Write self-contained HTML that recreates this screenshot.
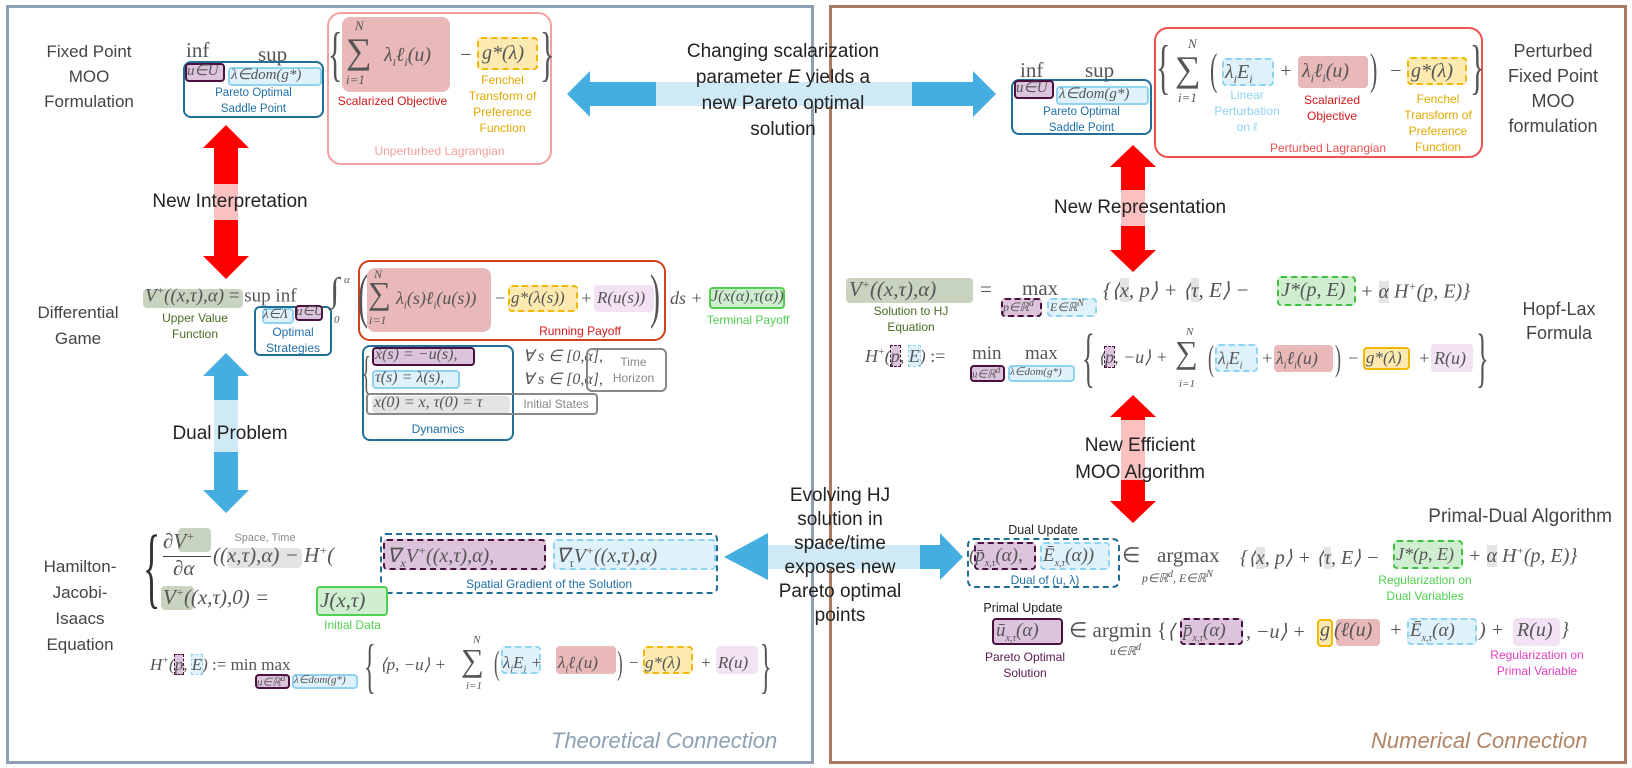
<!DOCTYPE html>
<html><head><meta charset="utf-8">
<style>
*{margin:0;padding:0;box-sizing:border-box}
body{width:1632px;height:768px;background:#fff;position:relative;overflow:hidden;font-family:"Liberation Sans",sans-serif}
.a{position:absolute;white-space:nowrap}
.t{font-family:"Liberation Sans",sans-serif;color:#222;text-align:center;line-height:26px;font-size:19px}
.m{font-family:"Liberation Serif",serif;font-style:italic;color:#555;font-size:19px}
.b{position:absolute;border-radius:4px}
.s{font-family:"Liberation Sans",sans-serif;font-size:11.5px;text-align:center;line-height:16px}
.pur{background:#dcc4dc;border:2px solid #4a1040}
.purd{background:#dcc4dc;border:2px dashed #4a1040}
.lb{background:#dff2fb;border:2px solid #8fd3f2}
.lbd{background:#dff2fb;border:2px dashed #8fd3f2}
.red{background:#e9b8b8;border-radius:8px}
.yel{background:#fdeab0;border:2px dashed #f2b800}
.grn{background:#cfeecf;border:2px solid #50d050}
.grnd{background:#cfeecf;border:2px dashed #40c040}
.pk{background:#f3e2f3;border-radius:4px}
.gr{background:#e4e4e4}
.vg{background:#c8d4c0}
</style></head><body>

<!-- panels -->
<div class="a" style="left:6px;top:5px;width:808px;height:759px;border:3px solid #8ea0b3"></div>
<div class="a" style="left:829px;top:5px;width:798px;height:759px;border:3px solid #a97c62"></div>

<!-- arrows -->
<svg class="a" style="left:0;top:0" width="1632" height="768">
 <polygon points="567,94 590,71 590,82 973,82 973,71 996,94 973,117 973,106 590,106 590,117" fill="#45aee0"/>
 <rect x="656" y="82" width="256" height="24" fill="#cfe9f6"/>
 <polygon points="724,557 768,533 768,545 940,545 940,533 963,557 940,580 940,569 768,569 768,580" fill="#45aee0"/>
 <rect x="768" y="545" width="152" height="24" fill="#cfe9f6"/>
 <polygon points="226,125 249,148 238,148 238,256 249,256 226,279 203,256 214,256 214,148 203,148" fill="#ff0000"/>
 <rect x="214" y="184" width="24" height="36" fill="#fbc0c0"/>
 <polygon points="226,353 249,376 238,376 238,490 249,490 226,513 203,490 214,490 214,376 203,376" fill="#45aee0"/>
 <rect x="214" y="400" width="24" height="52" fill="#cfe9f6"/>
 <polygon points="1133,145 1156,167 1145,167 1145,250 1156,250 1133,272 1110,250 1121,250 1121,167 1110,167" fill="#ff0000"/>
 <rect x="1121" y="190" width="24" height="36" fill="#fbc0c0"/>
 <polygon points="1133,395 1156,417 1145,417 1145,501 1156,501 1133,523 1110,501 1121,501 1121,417 1110,417" fill="#ff0000"/>
 <rect x="1121" y="420" width="24" height="60" fill="#fbc0c0"/>
</svg>

<!-- arrow labels -->
<div class="a t" style="left:663px;top:39px;width:240px">Changing scalarization<br>parameter <i>E</i> yields a<br>new Pareto optimal<br>solution</div>
<div class="a t" style="left:125px;top:189px;width:210px">New Interpretation</div>
<div class="a t" style="left:125px;top:421px;width:210px">Dual Problem</div>
<div class="a t" style="left:1030px;top:195px;width:220px">New Representation</div>
<div class="a t" style="left:1040px;top:432px;width:200px;line-height:27px">New Efficient<br>MOO Algorithm</div>
<div class="a t" style="left:750px;top:484px;width:180px;line-height:24px">Evolving HJ<br>solution in<br>space/time<br>exposes new<br>Pareto optimal<br>points</div>

<!-- LEFT: Fixed point -->
<div class="a t" style="left:19px;top:39px;width:140px;color:#444;font-size:17px;line-height:25px">Fixed Point<br>MOO<br>Formulation</div>
<div class="a m" style="left:186px;top:38px;font-style:normal;font-size:21px">inf</div>
<div class="a m" style="left:258px;top:42px;font-style:normal;font-size:21px">sup</div>
<div class="b" style="left:183px;top:61px;width:141px;height:57px;border:2px solid #1f6f98;border-radius:8px"></div>
<div class="b pur" style="left:185px;top:63px;width:40px;height:19px"></div>
<div class="a m" style="left:187px;top:61px;font-size:15px">u∈U</div>
<div class="b lb" style="left:228px;top:67px;width:94px;height:19px"></div>
<div class="a m" style="left:231px;top:65px;font-size:15px">λ∈dom(g*)</div>
<div class="a s" style="left:183px;top:85px;width:141px;color:#1f6fa8">Pareto Optimal<br>Saddle Point</div>

<div class="b" style="left:327px;top:12px;width:225px;height:153px;border:2px solid #f5a0a0;border-radius:14px"></div>
<div class="a m" style="left:328px;top:20px;font-size:60px;font-style:normal;font-weight:100;transform:scaleX(.5);transform-origin:left">{</div>
<div class="b red" style="left:342px;top:17px;width:108px;height:75px"></div>
<div class="a m" style="left:355px;top:18px;font-size:13px">N</div>
<div class="a m" style="left:346px;top:30px;font-size:36px;font-style:normal">∑</div>
<div class="a m" style="left:384px;top:44px;font-size:20px">λ<sub style="font-size:12px">i</sub>ℓ<sub style="font-size:12px">i</sub>(u)</div>
<div class="a m" style="left:346px;top:72px;font-size:13px">i=1</div>
<div class="a m" style="left:459px;top:44px;font-size:20px">−</div>
<div class="b yel" style="left:477px;top:37px;width:61px;height:33px"></div>
<div class="a m" style="left:482px;top:42px;font-size:20px">g*(λ)</div>
<div class="a m" style="left:540px;top:20px;font-size:60px;font-style:normal;transform:scaleX(.5);transform-origin:left">}</div>
<div class="a s" style="left:330px;top:93px;width:125px;color:#d01818;font-size:12px">Scalarized Objective</div>
<div class="a s" style="left:460px;top:72px;width:85px;color:#e2a800;font-size:12px">Fenchel<br>Transform of<br>Preference<br>Function</div>
<div class="a s" style="left:327px;top:143px;width:225px;color:#f5a0a0;font-size:12px">Unperturbed Lagrangian</div>

<!-- LEFT: Differential game -->
<div class="a t" style="left:8px;top:300px;width:140px;color:#444;font-size:17px">Differential<br>Game</div>
<div class="b vg" style="left:143px;top:289px;width:100px;height:19px"></div>
<div class="a m" style="left:145px;top:285px;font-size:19px">V<sup style="font-size:11px">+</sup>((x,τ),α) <span style="font-style:normal">= sup inf</span></div>
<div class="a s" style="left:145px;top:310px;width:100px;color:#4a6a20;font-size:12px">Upper Value<br>Function</div>
<div class="b" style="left:254px;top:306px;width:78px;height:50px;border:2px solid #1f6f98;border-radius:6px"></div>
<div class="b lb" style="left:262px;top:308px;width:32px;height:16px"></div>
<div class="a m" style="left:263px;top:306px;font-size:13px">λ∈Λ</div>
<div class="b pur" style="left:295px;top:305px;width:28px;height:16px"></div>
<div class="a m" style="left:296px;top:303px;font-size:13px">u∈U</div>
<div class="a s" style="left:254px;top:324px;width:78px;color:#1f6fa8;font-size:12px">Optimal<br>Strategies</div>
<div class="a m" style="left:330px;top:272px;font-size:34px;font-style:normal">∫</div>
<div class="a m" style="left:344px;top:274px;font-size:11px">α</div>
<div class="a m" style="left:334px;top:314px;font-size:11px">0</div>
<div class="b" style="left:358px;top:260px;width:308px;height:81px;border:2px solid #d0401a;border-radius:12px"></div>
<div class="a m" style="left:358px;top:262px;font-size:60px;font-style:normal;transform:scaleX(.5);transform-origin:left">(</div>
<div class="b red" style="left:367px;top:268px;width:124px;height:64px"></div>
<div class="a m" style="left:374px;top:267px;font-size:12px">N</div>
<div class="a m" style="left:368px;top:275px;font-size:32px;font-style:normal">∑</div>
<div class="a m" style="left:396px;top:288px;font-size:18px">λ<sub style="font-size:11px">i</sub>(s)ℓ<sub style="font-size:11px">i</sub>(u(s))</div>
<div class="a m" style="left:369px;top:313px;font-size:12px">i=1</div>
<div class="a m" style="left:494px;top:288px;font-size:18px">−</div>
<div class="b yel" style="left:508px;top:285px;width:70px;height:27px"></div>
<div class="a m" style="left:511px;top:288px;font-size:17px">g*(λ(s))</div>
<div class="a m" style="left:580px;top:288px;font-size:18px">+</div>
<div class="b pk" style="left:594px;top:285px;width:60px;height:27px"></div>
<div class="a m" style="left:597px;top:288px;font-size:17px">R(u(s))</div>
<div class="a m" style="left:650px;top:262px;font-size:60px;font-style:normal;transform:scaleX(.5);transform-origin:left">)</div>
<div class="a s" style="left:520px;top:323px;width:120px;color:#d01818;font-size:12px">Running Payoff</div>
<div class="a m" style="left:670px;top:288px;font-size:18px">ds +</div>
<div class="b grn" style="left:709px;top:287px;width:76px;height:22px"></div>
<div class="a m" style="left:711px;top:288px;font-size:16px">J(x(α),τ(α))</div>
<div class="a s" style="left:706px;top:312px;width:84px;color:#50d050;font-size:12px">Terminal Payoff</div>

<div class="b" style="left:362px;top:345px;width:152px;height:96px;border:2px solid #1f6f98;border-radius:8px"></div>
<div class="a m" style="left:362px;top:346px;font-size:46px;font-style:normal;transform:scaleX(.4);transform-origin:left">{</div>
<div class="b pur" style="left:372px;top:347px;width:103px;height:19px"></div>
<div class="a m" style="left:375px;top:346px;font-size:16px">ẋ(s) = −u(s),</div>
<div class="b lb" style="left:372px;top:370px;width:88px;height:19px"></div>
<div class="a m" style="left:375px;top:369px;font-size:16px">τ̇(s) = λ(s),</div>
<div class="b" style="left:366px;top:393px;width:232px;height:22px;border:2px solid #888"></div>
<div class="b gr" style="left:372px;top:396px;width:138px;height:17px"></div>
<div class="a m" style="left:374px;top:394px;font-size:16px">x(0) = x,  τ(0) = τ</div>
<div class="a s" style="left:514px;top:396px;width:84px;color:#888;font-size:12px">Initial States</div>
<div class="a m" style="left:523px;top:346px;font-size:16px">∀ s ∈ [0,α],</div>
<div class="a m" style="left:523px;top:369px;font-size:16px">∀ s ∈ [0,α],</div>
<div class="b" style="left:586px;top:348px;width:81px;height:44px;border:2px solid #888;border-radius:6px"></div>
<div class="a s" style="left:600px;top:354px;width:67px;color:#888;font-size:12px">Time<br>Horizon</div>
<div class="a s" style="left:362px;top:421px;width:152px;color:#1f6fa8;font-size:12px">Dynamics</div>

<!-- LEFT: HJI -->
<div class="a t" style="left:10px;top:554px;width:140px;color:#444;font-size:17px">Hamilton-<br>Jacobi-<br>Isaacs<br>Equation</div>
<div class="a m" style="left:143px;top:516px;font-size:90px;font-style:normal;transform:scaleX(.4);transform-origin:left;color:#333">{</div>
<div class="b vg" style="left:178px;top:528px;width:33px;height:24px"></div>
<div class="a m" style="left:163px;top:529px;font-size:21px">∂V<sup style="font-size:12px">+</sup></div>
<div class="a" style="left:163px;top:556px;width:48px;border-top:1px solid #444"></div>
<div class="a m" style="left:173px;top:556px;font-size:21px">∂α</div>
<div class="a s" style="left:225px;top:530px;width:80px;color:#888;font-size:11px">Space, Time</div>
<div class="b gr" style="left:227px;top:548px;width:75px;height:20px"></div>
<div class="a m" style="left:213px;top:543px;font-size:21px">((x,τ),α) − H<sup style="font-size:12px">+</sup>(</div>
<div class="b" style="left:380px;top:533px;width:338px;height:61px;border:2px dashed #1f6f98;border-radius:6px"></div>
<div class="b purd" style="left:383px;top:539px;width:163px;height:31px"></div>
<div class="a m" style="left:387px;top:543px;font-size:20px">∇<sub style="font-size:12px">x</sub>V<sup style="font-size:12px">+</sup>((x,τ),α),</div>
<div class="b lbd" style="left:553px;top:539px;width:163px;height:31px"></div>
<div class="a m" style="left:556px;top:543px;font-size:20px">∇<sub style="font-size:12px">τ</sub>V<sup style="font-size:12px">+</sup>((x,τ),α)</div>
<div class="a s" style="left:380px;top:576px;width:338px;color:#1f6fa8;font-size:12px">Spatial Gradient of the Solution</div>
<div class="b vg" style="left:161px;top:586px;width:33px;height:24px"></div>
<div class="a m" style="left:163px;top:585px;font-size:21px">V<sup style="font-size:12px">+</sup>((x,τ),0) =</div>
<div class="b grn" style="left:316px;top:586px;width:72px;height:30px"></div>
<div class="a m" style="left:320px;top:588px;font-size:21px">J(x,τ)</div>
<div class="a s" style="left:310px;top:617px;width:85px;color:#50d050;font-size:12px">Initial Data</div>

<div class="a m" style="left:150px;top:655px;font-size:17px">H<sup style="font-size:10px">+</sup>(<span style="background:#dcc4dc;outline:1px dashed #4a1040">p</span>, <span style="background:#dff2fb;outline:1px dashed #8fd3f2">E</span>) <span style="font-style:normal">:=  min    max</span></div>
<div class="b pur" style="left:255px;top:674px;width:35px;height:15px"></div>
<div class="a m" style="left:257px;top:673px;font-size:11px">u∈ℝ<sup>d</sup></div>
<div class="b lb" style="left:292px;top:674px;width:66px;height:15px"></div>
<div class="a m" style="left:294px;top:673px;font-size:11px">λ∈dom(g*)</div>
<div class="a m" style="left:364px;top:632px;font-size:60px;font-style:normal;transform:scaleX(.4);transform-origin:left">{</div>
<div class="a m" style="left:380px;top:655px;font-size:17px">⟨p, −u⟩ +</div>
<div class="a m" style="left:473px;top:634px;font-size:11px">N</div>
<div class="a m" style="left:461px;top:642px;font-size:32px;font-style:normal">∑</div>
<div class="a m" style="left:466px;top:680px;font-size:11px">i=1</div>
<div class="a m" style="left:494px;top:645px;font-size:34px;font-style:normal;transform:scaleX(.5);transform-origin:left">(</div>
<div class="b lbd" style="left:501px;top:646px;width:40px;height:28px"></div>
<div class="a m" style="left:503px;top:653px;font-size:17px">λ<sub style="font-size:10px">i</sub>E<sub style="font-size:10px">i</sub> +</div>
<div class="b red" style="left:556px;top:646px;width:60px;height:28px;border-radius:4px"></div>
<div class="a m" style="left:558px;top:653px;font-size:17px">λ<sub style="font-size:10px">i</sub>ℓ<sub style="font-size:10px">i</sub>(u)</div>
<div class="a m" style="left:617px;top:645px;font-size:34px;font-style:normal;transform:scaleX(.5);transform-origin:left">)</div>
<div class="a m" style="left:628px;top:653px;font-size:17px">−</div>
<div class="b yel" style="left:643px;top:646px;width:50px;height:28px"></div>
<div class="a m" style="left:645px;top:653px;font-size:17px">g*(λ)</div>
<div class="a m" style="left:700px;top:653px;font-size:17px">+</div>
<div class="b pk" style="left:716px;top:646px;width:42px;height:28px"></div>
<div class="a m" style="left:718px;top:653px;font-size:17px">R(u)</div>
<div class="a m" style="left:760px;top:632px;font-size:60px;font-style:normal;transform:scaleX(.4);transform-origin:left">}</div>
<div class="a" style="left:551px;top:728px;font-style:italic;font-size:22px;color:#8ea0b3;font-family:'Liberation Sans',sans-serif">Theoretical Connection</div>

<!-- RIGHT: perturbed -->
<div class="a m" style="left:1020px;top:58px;font-style:normal;font-size:21px">inf</div>
<div class="a m" style="left:1085px;top:58px;font-style:normal;font-size:21px">sup</div>
<div class="b" style="left:1011px;top:79px;width:141px;height:56px;border:2px solid #1f6f98;border-radius:8px"></div>
<div class="b pur" style="left:1014px;top:80px;width:40px;height:19px"></div>
<div class="a m" style="left:1016px;top:78px;font-size:15px">u∈U</div>
<div class="b lb" style="left:1056px;top:86px;width:93px;height:19px"></div>
<div class="a m" style="left:1059px;top:84px;font-size:15px">λ∈dom(g*)</div>
<div class="a s" style="left:1011px;top:104px;width:141px;color:#1f6fa8">Pareto Optimal<br>Saddle Point</div>

<div class="b" style="left:1154px;top:27px;width:329px;height:131px;border:2px solid #f05050;border-radius:14px"></div>
<div class="a m" style="left:1156px;top:33px;font-size:60px;font-style:normal;transform:scaleX(.5);transform-origin:left">{</div>
<div class="a m" style="left:1188px;top:36px;font-size:13px">N</div>
<div class="a m" style="left:1175px;top:48px;font-size:36px;font-style:normal">∑</div>
<div class="a m" style="left:1178px;top:90px;font-size:13px">i=1</div>
<div class="a m" style="left:1210px;top:44px;font-size:44px;font-style:normal;transform:scaleX(.5);transform-origin:left">(</div>
<div class="b lbd" style="left:1222px;top:58px;width:52px;height:28px"></div>
<div class="a m" style="left:1225px;top:61px;font-size:20px">λ<sub style="font-size:12px">i</sub>E<sub style="font-size:12px">i</sub></div>
<div class="a m" style="left:1279px;top:60px;font-size:20px">+</div>
<div class="b red" style="left:1298px;top:56px;width:70px;height:32px;border-radius:4px"></div>
<div class="a m" style="left:1302px;top:60px;font-size:20px">λ<sub style="font-size:12px">i</sub>ℓ<sub style="font-size:12px">i</sub>(u)</div>
<div class="a m" style="left:1370px;top:44px;font-size:44px;font-style:normal;transform:scaleX(.5);transform-origin:left">)</div>
<div class="a m" style="left:1389px;top:60px;font-size:20px">−</div>
<div class="b yel" style="left:1407px;top:57px;width:60px;height:28px"></div>
<div class="a m" style="left:1411px;top:60px;font-size:20px">g*(λ)</div>
<div class="a m" style="left:1470px;top:33px;font-size:60px;font-style:normal;transform:scaleX(.5);transform-origin:left">}</div>
<div class="a s" style="left:1207px;top:87px;width:80px;color:#8fd3f2;font-size:12px">Linear<br>Perturbation<br>on ℓ</div>
<div class="a s" style="left:1292px;top:92px;width:80px;color:#d01818;font-size:12px">Scalarized<br>Objective</div>
<div class="a s" style="left:1396px;top:91px;width:84px;color:#e2a800;font-size:12px">Fenchel<br>Transform of<br>Preference<br>Function</div>
<div class="a s" style="left:1266px;top:140px;width:124px;color:#f05050;font-size:12px">Perturbed Lagrangian</div>
<div class="a t" style="left:1488px;top:39px;width:130px;color:#444;font-size:18px;line-height:25px">Perturbed<br>Fixed Point<br>MOO<br>formulation</div>

<!-- RIGHT: Hopf-Lax -->
<div class="b vg" style="left:846px;top:278px;width:127px;height:25px"></div>
<div class="a m" style="left:849px;top:277px;font-size:21px">V<sup style="font-size:12px">+</sup>((x,τ),α)</div>
<div class="a m" style="left:980px;top:277px;font-size:21px;font-style:normal">=</div>
<div class="a m" style="left:1022px;top:276px;font-size:21px;font-style:normal">max</div>
<div class="b purd" style="left:1001px;top:298px;width:41px;height:19px"></div>
<div class="a m" style="left:1003px;top:298px;font-size:12px">p∈ℝ<sup>d</sup></div>
<div class="b lbd" style="left:1047px;top:298px;width:50px;height:19px"></div>
<div class="a m" style="left:1050px;top:298px;font-size:12px">E∈ℝ<sup>N</sup></div>
<div class="a m" style="left:1103px;top:278px;font-size:21px">{⟨<span style="background:#e4e4e4">x</span>, p⟩ + ⟨<span style="background:#e4e4e4">τ</span>, E⟩ −</div>
<div class="b grnd" style="left:1277px;top:276px;width:79px;height:30px"></div>
<div class="a m" style="left:1281px;top:279px;font-size:20px">J*(p, E)</div>
<div class="a m" style="left:1360px;top:279px;font-size:20px">+ <span style="background:#e4e4e4">α</span> H<sup style="font-size:12px">+</sup>(p, E)}</div>
<div class="a s" style="left:856px;top:303px;width:110px;color:#4a6a20;font-size:12px">Solution to HJ<br>Equation</div>
<div class="a t" style="left:1500px;top:297px;width:118px;color:#444;font-size:18px;line-height:24px">Hopf-Lax<br>Formula</div>

<div class="a m" style="left:865px;top:346px;font-size:18px">H<sup style="font-size:10px">+</sup>(<span style="background:#dcc4dc;outline:1px dashed #4a1040">p</span>, <span style="background:#dff2fb;outline:1px dashed #8fd3f2">E</span>) <span style="font-style:normal">:=</span></div>
<div class="a m" style="left:972px;top:343px;font-size:19px;font-style:normal">min</div>
<div class="a m" style="left:1025px;top:343px;font-size:19px;font-style:normal">max</div>
<div class="b pur" style="left:970px;top:365px;width:35px;height:17px"></div>
<div class="a m" style="left:972px;top:365px;font-size:11px">u∈ℝ<sup>d</sup></div>
<div class="b lb" style="left:1008px;top:365px;width:67px;height:17px"></div>
<div class="a m" style="left:1010px;top:365px;font-size:11px">λ∈dom(g*)</div>
<div class="a m" style="left:1082px;top:320px;font-size:66px;font-style:normal;transform:scaleX(.4);transform-origin:left">{</div>
<div class="a m" style="left:1098px;top:347px;font-size:18px">⟨<span style="background:#dcc4dc;outline:1px dashed #4a1040">p</span>, −u⟩ +</div>
<div class="a m" style="left:1186px;top:326px;font-size:11px">N</div>
<div class="a m" style="left:1175px;top:334px;font-size:32px;font-style:normal">∑</div>
<div class="a m" style="left:1179px;top:378px;font-size:11px">i=1</div>
<div class="a m" style="left:1208px;top:337px;font-size:36px;font-style:normal;transform:scaleX(.5);transform-origin:left">(</div>
<div class="b lbd" style="left:1215px;top:344px;width:43px;height:28px"></div>
<div class="a m" style="left:1218px;top:348px;font-size:18px">λ<sub style="font-size:10px">i</sub>E<sub style="font-size:10px">i</sub></div>
<div class="a m" style="left:1261px;top:348px;font-size:18px">+</div>
<div class="b red" style="left:1274px;top:345px;width:59px;height:27px;border-radius:4px"></div>
<div class="a m" style="left:1276px;top:348px;font-size:18px">λ<sub style="font-size:10px">i</sub>ℓ<sub style="font-size:10px">i</sub>(u)</div>
<div class="a m" style="left:1335px;top:337px;font-size:36px;font-style:normal;transform:scaleX(.5);transform-origin:left">)</div>
<div class="a m" style="left:1347px;top:348px;font-size:18px">−</div>
<div class="b" style="left:1363px;top:347px;width:47px;height:23px;background:#fdeab0;border:2px solid #f2b800"></div>
<div class="a m" style="left:1366px;top:348px;font-size:17px">g*(λ)</div>
<div class="a m" style="left:1418px;top:348px;font-size:18px">+</div>
<div class="b pk" style="left:1431px;top:344px;width:42px;height:28px"></div>
<div class="a m" style="left:1434px;top:348px;font-size:18px">R(u)</div>
<div class="a m" style="left:1476px;top:320px;font-size:66px;font-style:normal;transform:scaleX(.4);transform-origin:left">}</div>

<!-- RIGHT: Primal-dual -->
<div class="a t" style="left:1400px;top:505px;width:212px;color:#444;font-size:19px;text-align:right;line-height:24px">Primal-Dual Algorithm</div>
<div class="a s" style="left:995px;top:522px;width:96px;color:#222;font-size:12.5px">Dual Update</div>
<div class="b" style="left:967px;top:538px;width:153px;height:50px;border:2px dashed #1f6f98;border-radius:7px"></div>
<div class="b purd" style="left:974px;top:542px;width:62px;height:28px"></div>
<div class="a m" style="left:969px;top:545px;font-size:19px">(p̄<sub style="font-size:10px">x,τ</sub>(α),</div>
<div class="b lbd" style="left:1040px;top:542px;width:70px;height:28px"></div>
<div class="a m" style="left:1043px;top:545px;font-size:19px">Ē<sub style="font-size:10px">x,τ</sub>(α))</div>
<div class="a m" style="left:1122px;top:543px;font-size:21px;font-style:normal">∈</div>
<div class="a m" style="left:1157px;top:543px;font-size:21px;font-style:normal">argmax</div>
<div class="a m" style="left:1142px;top:569px;font-size:12px">p∈ℝ<sup>d</sup>, E∈ℝ<sup>N</sup></div>
<div class="a m" style="left:1240px;top:545px;font-size:20px">{⟨<span style="background:#e4e4e4">x</span>, p⟩ + ⟨<span style="background:#e4e4e4">τ</span>, E⟩ −</div>
<div class="b grnd" style="left:1393px;top:540px;width:70px;height:29px"></div>
<div class="a m" style="left:1396px;top:544px;font-size:18px">J*(p, E)</div>
<div class="a m" style="left:1468px;top:545px;font-size:20px">+ <span style="background:#e4e4e4">α</span> H<sup style="font-size:11px">+</sup>(p, E)}</div>
<div class="a s" style="left:995px;top:572px;width:100px;color:#1f6fa8;font-size:12px">Dual of (u, λ)</div>
<div class="a s" style="left:1365px;top:572px;width:120px;color:#50d050;font-size:12px">Regularization on<br>Dual Variables</div>

<div class="a s" style="left:975px;top:600px;width:96px;color:#222;font-size:12.5px">Primal Update</div>
<div class="b pur" style="left:992px;top:618px;width:71px;height:27px"></div>
<div class="a m" style="left:996px;top:620px;font-size:19px">ū<sub style="font-size:10px">x,τ</sub>(α)</div>
<div class="a m" style="left:1069px;top:618px;font-size:21px;font-style:normal">∈ argmin {</div>
<div class="a m" style="left:1167px;top:619px;font-size:20px">⟨</div>
<div class="a m" style="left:1110px;top:642px;font-size:12px">u∈ℝ<sup>d</sup></div>
<div class="b purd" style="left:1180px;top:618px;width:63px;height:27px"></div>
<div class="a m" style="left:1183px;top:620px;font-size:19px">p̄<sub style="font-size:10px">x,τ</sub>(α)</div>
<div class="a m" style="left:1246px;top:619px;font-size:20px">, −u⟩ +</div>
<div class="b" style="left:1317px;top:619px;width:16px;height:28px;background:#fdeab0;border:2px solid #f2b800"></div>
<div class="a m" style="left:1320px;top:619px;font-size:20px">g</div>
<div class="b red" style="left:1336px;top:619px;width:44px;height:27px;border-radius:4px"></div>
<div class="a m" style="left:1334px;top:619px;font-size:20px">(ℓ(u)</div>
<div class="a m" style="left:1389px;top:619px;font-size:20px">+</div>
<div class="b lbd" style="left:1407px;top:618px;width:70px;height:27px"></div>
<div class="a m" style="left:1410px;top:620px;font-size:19px">Ē<sub style="font-size:10px">x,τ</sub>(α)</div>
<div class="a m" style="left:1479px;top:619px;font-size:20px">) +</div>
<div class="b pk" style="left:1513px;top:618px;width:47px;height:28px"></div>
<div class="a m" style="left:1517px;top:619px;font-size:20px">R(u)</div>
<div class="a m" style="left:1561px;top:619px;font-size:20px">}</div>
<div class="a s" style="left:975px;top:649px;width:100px;color:#5a1a50;font-size:12px">Pareto Optimal<br>Solution</div>
<div class="a s" style="left:1477px;top:647px;width:120px;color:#e040c0;font-size:12px">Regularization on<br>Primal Variable</div>
<div class="a" style="left:1371px;top:728px;font-style:italic;font-size:22px;color:#b08465;font-family:'Liberation Sans',sans-serif">Numerical Connection</div>
</body></html>
